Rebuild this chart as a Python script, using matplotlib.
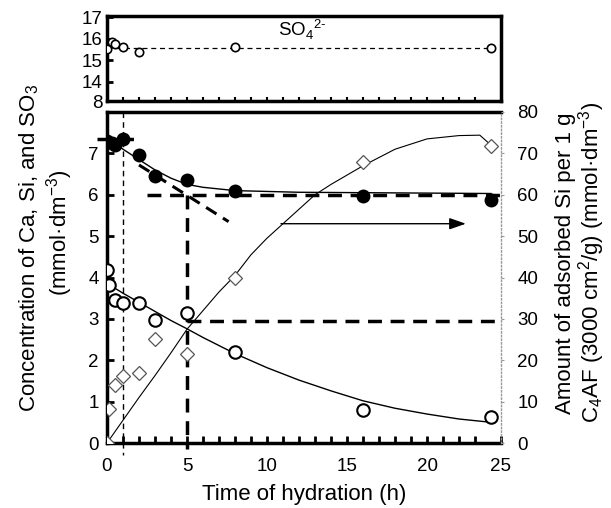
import numpy as np
import matplotlib
matplotlib.use("Agg")
from matplotlib import pyplot as plt

plt.rcParams['font.family'] = ['Liberation Sans', 'DejaVu Sans']
plt.rcParams['mathtext.fontset'] = 'custom'
plt.rcParams['mathtext.rm'] = 'Liberation Sans'

# SO4 (top panel)
t_so4 = [0, 0.3, 0.5, 1, 2, 8, 24]
so4 = [15.5, 15.85, 15.75, 15.6, 15.4, 15.6, 15.55]
so4_level = 15.55

# filled circles (Ca)
t_ca = [0, 0.3, 0.5, 1, 2, 3, 5, 8, 16, 24]
ca = [7.3, 7.25, 7.2, 7.35, 6.95, 6.45, 6.35, 6.1, 5.98, 5.88]
t_ca_fit = [0, 0.5, 1, 2, 3, 4, 5, 6, 8, 10, 12, 16, 20, 24]
ca_fit = [7.45, 7.25, 7.1, 6.85, 6.6, 6.4, 6.25, 6.18, 6.1, 6.08, 6.06, 6.05, 6.04, 6.03]

# open circles (Si)
t_si = [0, 0.1, 0.5, 1, 2, 3, 5, 8, 16, 24]
si = [4.18, 3.82, 3.45, 3.38, 3.38, 2.97, 3.15, 2.2, 0.8, 0.62]
t_si_fit = [0, 1, 2, 3, 4, 5, 6, 8, 10, 12, 14, 16, 18, 20, 22, 24]
si_fit = [3.86, 3.62, 3.4, 3.18, 2.96, 2.76, 2.55, 2.16, 1.82, 1.52, 1.26, 1.02, 0.84, 0.7, 0.58, 0.5]

# open diamonds (adsorbed Si, right axis)
t_ads = [0, 0.1, 0.5, 1, 2, 3, 5, 8, 16, 24]
ads = [0, 8.3, 13.9, 16.3, 16.8, 25.2, 21.6, 40, 68, 71.8]
t_ads_fit = [0, 1, 2, 3, 4, 5, 6, 7, 8, 9, 10, 11, 12, 13, 14, 16, 18, 20, 22, 23.3, 24]
ads_fit = [0, 5.5, 11, 16.3, 21.8, 27.5, 32, 36.5, 40.5, 45.5, 49.5, 53, 56.5, 60, 62.5, 67, 71, 73.5, 74.3, 74.4, 72]

# construction lines
tangent_t = [2.0, 7.6]
tangent_c = [6.72, 5.35]
init_level = 7.35
sat_level = 6.0
ads_level = 2.95
t_onset = 1
t_knee = 5

fig = plt.figure(figsize=(6.11, 5.08), dpi=100)
W, H = 611, 508
x0, x1 = 107, 500.6
ax_top = fig.add_axes([x0 / W, 1 - 101 / H, (x1 - x0) / W, 85 / H])
ax = fig.add_axes([x0 / W, 1 - 443 / H, (x1 - x0) / W, 331 / H])
ax2 = ax.twinx()

# top panel
ax_top.plot(t_so4, so4, 'o', ms=6, mfc='white', mec='black', mew=1.2, zorder=3)
ax_top.plot([0, 24], [so4_level, so4_level], '--', color='black', lw=0.9, dashes=(4, 3))
ax_top.set_xlim(0, 24.6)
ax_top.set_ylim(13.1, 17.05)
ax_top.set_yticks([13.1, 14, 15, 16, 17])
ax_top.set_yticklabels(['8', '14', '15', '16', '17'])
ax_top.set_xticks(np.arange(1, 24, 1))
ax_top.tick_params(axis='x', direction='in', length=3, width=1.5, labelbottom=False)
ax_top.tick_params(axis='y', direction='in', length=4, width=2, labelsize=13.5, pad=3)
for s in ax_top.spines.values():
    s.set_linewidth(2.5)
ax_top.text(10.7, 16.4, 'SO$_4$$^{2\u2010}$', fontsize=13.5, ha='left', va='center')

# main panel
ax.plot(t_ca_fit, ca_fit, '-', color='black', lw=1.0)
ax.plot(t_ca, ca, 'o', ms=9, color='black', zorder=4)
ax.plot(t_si_fit, si_fit, '-', color='black', lw=1.0)
ax.plot(t_si, si, 'o', ms=9, mfc='white', mec='black', mew=1.5, zorder=4)

ax.plot(tangent_t, tangent_c, '--', color='black', lw=2.2, dashes=(4, 2.5))
ax.plot([-0.6, 1.9], [init_level, init_level], '--', color='black', lw=2.5, dashes=(4, 2.5), clip_on=False)
ax.plot([2.5, 24.6], [sat_level, sat_level], '--', color='black', lw=2.5, dashes=(4, 2.5))
ax.plot([t_knee, 24.6], [ads_level, ads_level], '--', color='black', lw=2.5, dashes=(4, 2.5))
ax.plot([t_knee, t_knee], [sat_level, -0.15], '--', color='black', lw=2.5, dashes=(4, 2.5), clip_on=False)
ax.plot([t_onset, t_onset], [8, -0.3], '--', color='black', lw=1.0, dashes=(4, 3), clip_on=False)
ax.annotate('', xy=(22.6, 5.3), xytext=(10.7, 5.3),
            arrowprops=dict(arrowstyle='-|>,head_length=1.0,head_width=0.35', color='black', lw=1.0))

ax.set_xlim(0, 24.6)
ax.set_ylim(0, 8)
ax.set_xticks([0, 5, 10, 15, 20, 24.6])
ax.set_xticklabels(['0', '5', '10', '15', '20', '25'])
ax.set_xticks(np.arange(1, 24, 1), minor=True)
ax.set_yticks(range(0, 8))
ax.tick_params(axis='x', which='both', direction='in', length=5, width=2, labelsize=13.5, pad=11)
ax.tick_params(axis='y', direction='in', length=5, width=2, labelsize=13.5, pad=6)
ax.set_xlabel('Time of hydration (h)', fontsize=16, labelpad=6)
for name in ['left', 'bottom', 'top']:
    ax.spines[name].set_linewidth(2.5)
ax.spines['right'].set_visible(False)

ax2.plot(t_ads_fit, ads_fit, '-', color='black', lw=0.8)
ax2.plot(t_ads, ads, 'D', ms=7, mfc='white', mec='#555555', mew=0.9, zorder=4)
ax2.set_ylim(0, 80)
ax2.set_yticks(range(0, 81, 10))
ax2.tick_params(axis='y', direction='out', length=2, width=0.8, color='#999999', labelsize=13.5, pad=10)
for name in ['left', 'bottom', 'top']:
    ax2.spines[name].set_visible(False)
ax2.spines['right'].set_linestyle(':')
ax2.spines['right'].set_color('#999999')
ax2.spines['right'].set_linewidth(1.0)

fig.text(29 / W, 1 - 248 / H, 'Concentration of Ca, Si, and SO$_3$',
         rotation=90, ha='center', va='center', fontsize=16)
fig.text(60 / W, 1 - 233 / H, '(mmol·dm$^{-3}$)',
         rotation=90, ha='center', va='center', fontsize=16)
fig.text(565 / W, 1 - 263 / H, 'Amount of adsorbed Si per 1 g',
         rotation=90, ha='center', va='center', fontsize=16)
fig.text(592 / W, 1 - 262 / H, 'C$_4$AF (3000 cm$^2$/g) (mmol·dm$^{-3}$)',
         rotation=90, ha='center', va='center', fontsize=16)

fig.savefig('out.png', dpi=100)
